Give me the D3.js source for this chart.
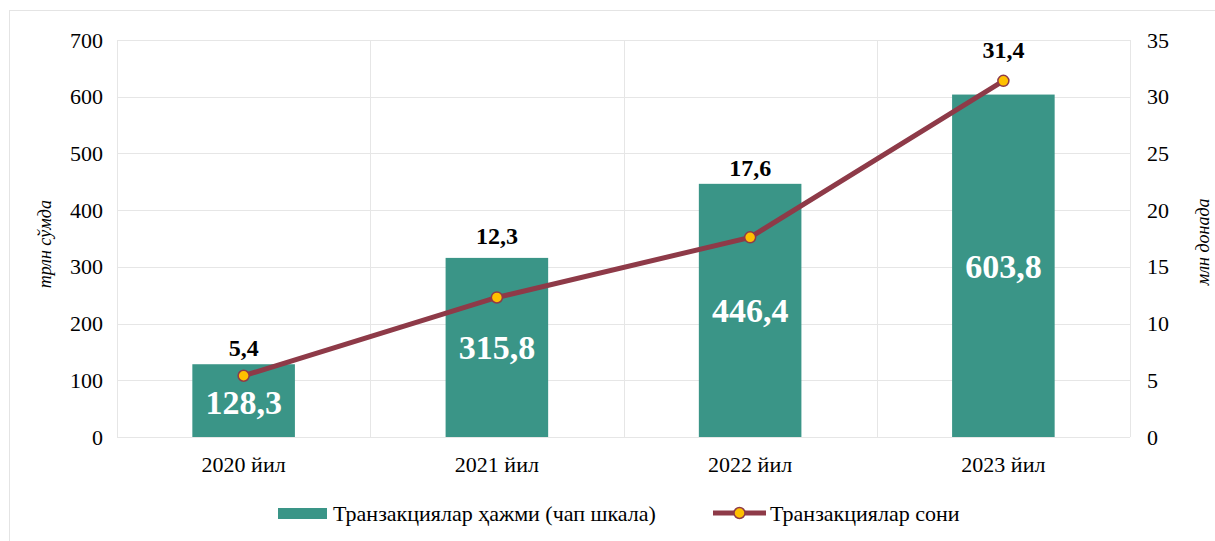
<!DOCTYPE html>
<html>
<head>
<meta charset="utf-8">
<script src="https://cdn.jsdelivr.net/npm/d3@7"></script>
<style>
  body { margin: 0; background: #fff; }
  text { font-family: "Liberation Serif", "Times New Roman", serif; }
</style>
</head>
<body>
<svg id="chart"></svg>
<script>
// data
var years = ["2020 йил", "2021 йил", "2022 йил", "2023 йил"];
var volume = [128.3, 315.8, 446.4, 603.8];   // трлн сўм, left axis
var count = [5.4, 12.3, 17.6, 31.4];          // млн дона, right axis
var leftTicks = [0, 100, 200, 300, 400, 500, 600, 700];
var rightTicks = [0, 5, 10, 15, 20, 25, 30, 35];

var width = 1215;
var height = 541;
var margin = { "top": 40, "right": 85, "bottom": 104, "left": 117 };

var barColor = "#3a9587";
var lineColor = "#8e3a48";
var dotColor = "#ffc000";
var serif = "'Liberation Serif', 'Times New Roman', serif";

var fmt = function(v) { return d3.format(".1f")(v).replace(".", ","); };

var svg = d3.select("svg#chart")
    .attr("width", width)
    .attr("height", height);

// outer chart frame
svg.append("rect")
    .attr("x", 9.5).attr("y", 10.5)
    .attr("width", 1215).attr("height", 545)
    .attr("fill", "none")
    .attr("stroke", "#e4e4e4");

var x = d3.scaleBand()
    .domain(years)
    .range([margin.left, width - margin.right]);

var yL = d3.scaleLinear().domain([0, 700]).range([height - margin.bottom, margin.top]);
var yR = d3.scaleLinear().domain([0, 35]).range([height - margin.bottom, margin.top]);

var g = svg.append("g");

// horizontal grid
g.selectAll("line.hgrid")
    .data(leftTicks)
    .enter().append("line")
    .attr("class", "hgrid")
    .attr("x1", margin.left).attr("x2", width - margin.right)
    .attr("y1", function(d) { return Math.round(yL(d)) + 0.5; })
    .attr("y2", function(d) { return Math.round(yL(d)) + 0.5; })
    .attr("stroke", "#e6e6e6");

// vertical grid at category boundaries
var bounds = years.map(function(d) { return x(d); }).concat([x.range()[1]]);
g.selectAll("line.vgrid")
    .data(bounds)
    .enter().append("line")
    .attr("class", "vgrid")
    .attr("y1", yL(700)).attr("y2", yL(0))
    .attr("x1", function(d) { return Math.round(d) + 0.5; })
    .attr("x2", function(d) { return Math.round(d) + 0.5; })
    .attr("stroke", "#e6e6e6");

// bars
var barW = x.bandwidth() * 0.405;
g.selectAll("rect.bar")
    .data(volume)
    .enter().append("rect")
    .attr("class", "bar")
    .attr("x", function(d, i) { return x(years[i]) + x.bandwidth() / 2 - barW / 2; })
    .attr("y", function(d) { return yL(d); })
    .attr("width", barW)
    .attr("height", function(d) { return yL(0) - yL(d); })
    .attr("fill", barColor);

// bar value labels
g.selectAll("text.barlab")
    .data(volume)
    .enter().append("text")
    .attr("class", "barlab")
    .attr("x", function(d, i) { return x(years[i]) + x.bandwidth() / 2; })
    .attr("y", function(d, i) { return i == 0 ? yL(d) + 50 : yL(d) + (yL(0) - yL(d)) / 2 + 12; })
    .attr("text-anchor", "middle")
    .attr("fill", "#fff")
    .style("font-size", "34px")
    .style("font-weight", "bold")
    .text(function(d) { return fmt(d); });

// line
var line = d3.line()
    .x(function(d, i) { return x(years[i]) + x.bandwidth() / 2; })
    .y(function(d) { return yR(d); });

g.append("path")
    .datum(count)
    .attr("d", line)
    .attr("fill", "none")
    .attr("stroke", lineColor)
    .attr("stroke-width", 5);

g.selectAll("circle.dot")
    .data(count)
    .enter().append("circle")
    .attr("class", "dot")
    .attr("cx", function(d, i) { return x(years[i]) + x.bandwidth() / 2; })
    .attr("cy", function(d) { return yR(d); })
    .attr("r", 5.5)
    .attr("fill", dotColor)
    .attr("stroke", lineColor)
    .attr("stroke-width", 1.5);

// line value labels, above the bar tops (or the point for the last one)
var labOff = [-8, -14, -8];
g.selectAll("text.linelab")
    .data(count)
    .enter().append("text")
    .attr("class", "linelab")
    .attr("x", function(d, i) { return x(years[i]) + x.bandwidth() / 2; })
    .attr("y", function(d, i) { return i == 3 ? yR(d) - 23 : yL(volume[i]) + labOff[i]; })
    .attr("text-anchor", "middle")
    .attr("fill", "#000")
    .style("font-size", "24px")
    .style("font-weight", "bold")
    .text(function(d) { return fmt(d); });

// axes
var axL = svg.append("g")
    .attr("transform", "translate(" + (margin.left - 14) + ",0)")
    .call(d3.axisLeft(yL).tickValues(leftTicks).tickSize(0).tickPadding(0));
var axR = svg.append("g")
    .attr("transform", "translate(" + (width - margin.right + 17) + ",0)")
    .call(d3.axisRight(yR).tickValues(rightTicks).tickSize(0).tickPadding(0));
var axB = svg.append("g")
    .attr("transform", "translate(0," + (height - margin.bottom + 15) + ")")
    .call(d3.axisBottom(x).tickSize(0).tickPadding(0));

[axL, axR, axB].forEach(function(a) {
    a.attr("font-family", serif);
    a.select(".domain").remove();
    a.selectAll("text")
        .attr("fill", "#000")
        .style("font-family", serif)
        .style("font-size", "22px");
});
axB.selectAll("text").attr("dy", "0.9em");

// axis titles
svg.append("text")
    .attr("transform", "translate(51," + yL(340) + ") rotate(-90)")
    .attr("text-anchor", "middle")
    .style("font-size", "18px")
    .style("font-style", "italic")
    .text("трлн сўмда");

svg.append("text")
    .attr("transform", "translate(1209," + yR(17.2) + ") rotate(-90)")
    .attr("text-anchor", "middle")
    .style("font-size", "18px")
    .style("font-style", "italic")
    .text("млн донада");

// legend
var legY = 513;
var leg = svg.append("g");
leg.append("rect")
    .attr("x", 278).attr("y", legY - 5)
    .attr("width", 49).attr("height", 11)
    .attr("fill", barColor);
leg.append("text")
    .attr("x", 333).attr("y", legY + 8)
    .style("font-size", "22px")
    .text("Транзакциялар ҳажми (чап шкала)");

leg.append("line")
    .attr("x1", 713).attr("x2", 766)
    .attr("y1", legY).attr("y2", legY)
    .attr("stroke", lineColor)
    .attr("stroke-width", 5);
leg.append("circle")
    .attr("cx", 739.5).attr("cy", legY)
    .attr("r", 5.5)
    .attr("fill", dotColor)
    .attr("stroke", lineColor)
    .attr("stroke-width", 1.5);
leg.append("text")
    .attr("x", 770).attr("y", legY + 8)
    .style("font-size", "22px")
    .text("Транзакциялар сони");
</script>
</body>
</html>
